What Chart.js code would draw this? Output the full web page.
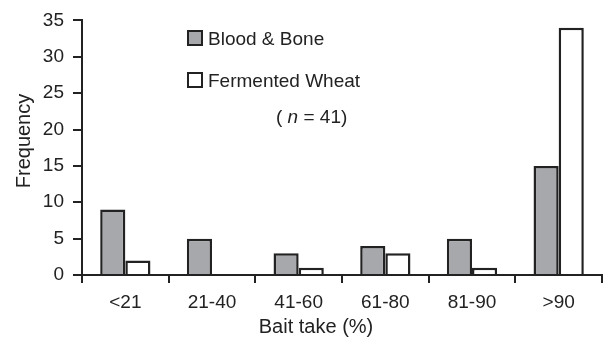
<!DOCTYPE html>
<html>
<head>
<meta charset="utf-8">
<script src="https://cdn.jsdelivr.net/npm/chart.js@4.4.1/dist/chart.umd.min.js"></script>
<style>
  html, body { margin: 0; padding: 0; background: #fff; }
  #wrap { width: 603px; height: 340px; position: relative; }
</style>
</head>
<body>
<div id="wrap"><canvas id="myChart"></canvas></div>
<script>
// data
const categories = ['<21', '21-40', '41-60', '61-80', '81-90', '>90'];
const bloodBone = [9, 5, 3, 4, 5, 15];
const fermentedWheat = [2, 0, 1, 3, 1, 34];
const yTicks = [0, 5, 10, 15, 20, 25, 30, 35];
const sampleSize = 41;

const ink = '#222222';
const grey = '#a7a8ab';
const font = 'Liberation Sans, Arial, sans-serif';

// legend + axis titles, placed like the original figure
const annotations = {
    id: 'annotations',
    afterDatasetsDraw(chart) {
        const ctx = chart.ctx;
        ctx.save();
        ctx.lineWidth = 2;
        ctx.strokeStyle = ink;
        ctx.textBaseline = 'middle';
        ctx.font = '19px ' + font;
        const rows = [
            {y: 38, fill: grey, text: chart.data.datasets[0].label},
            {y: 80, fill: '#ffffff', text: chart.data.datasets[1].label}
        ];
        rows.forEach(r => {
            ctx.fillStyle = r.fill;
            ctx.fillRect(188, r.y - 7, 14, 14);
            ctx.strokeRect(188, r.y - 7, 14, 14);
            ctx.fillStyle = ink;
            ctx.fillText(r.text, 208, r.y + 2);
        });
        // ( n = 41 )
        let x = 276;
        const y = 118;
        ctx.fillText('( ', x, y);
        x += ctx.measureText('( ').width;
        ctx.font = 'italic 19px ' + font;
        ctx.fillText('n', x, y);
        x += ctx.measureText('n').width;
        ctx.font = '19px ' + font;
        ctx.fillText(' = ' + sampleSize + ')', x, y);

        // axis titles
        ctx.font = '20px ' + font;
        ctx.textAlign = 'center';
        ctx.fillText('Bait take (%)', 316, 327);
        ctx.translate(24, 141);
        ctx.rotate(-Math.PI / 2);
        ctx.fillText('Frequency', 0, 0);
        ctx.restore();
    }
};

new Chart(document.getElementById('myChart'), {
    type: 'bar',
    data: {
        labels: categories,
        datasets: [{
            label: 'Blood & Bone',
            data: bloodBone,
            backgroundColor: grey,
            borderColor: ink,
            borderWidth: 2.5,
            borderSkipped: 'bottom'
        }, {
            label: 'Fermented Wheat',
            data: fermentedWheat,
            backgroundColor: '#ffffff',
            borderColor: ink,
            borderWidth: 2.5,
            borderSkipped: 'bottom'
        }]
    },
    options: {
        responsive: true,
        maintainAspectRatio: false,
        animation: false,
        datasets: {bar: {categoryPercentage: 0.58, barPercentage: 1}},
        layout: {padding: {top: 18, right: 1, left: 0, bottom: 0}},
        plugins: {
            legend: {display: false},
            tooltip: {enabled: false}
        },
        scales: {
            x: {
                offset: true,
                grid: {
                    offset: true,
                    drawOnChartArea: false,
                    drawTicks: true,
                    tickLength: 8,
                    color: ink,
                    lineWidth: 2
                },
                border: {display: true, color: ink, width: 2},
                ticks: {color: ink, font: {family: font, size: 19}, padding: 8, maxRotation: 0},
                afterFit(scale) { scale.height = 65; }
            },
            y: {
                min: 0,
                max: 35,
                afterBuildTicks(scale) { scale.ticks = yTicks.map(v => ({value: v})); },
                grid: {
                    drawOnChartArea: false,
                    drawTicks: true,
                    tickLength: 9,
                    color: ink,
                    lineWidth: 2
                },
                border: {display: true, color: ink, width: 2},
                ticks: {color: ink, font: {family: font, size: 19}, padding: 9},
                afterFit(scale) { scale.width = 82; }
            }
        }
    },
    plugins: [annotations]
});
</script>
</body>
</html>
